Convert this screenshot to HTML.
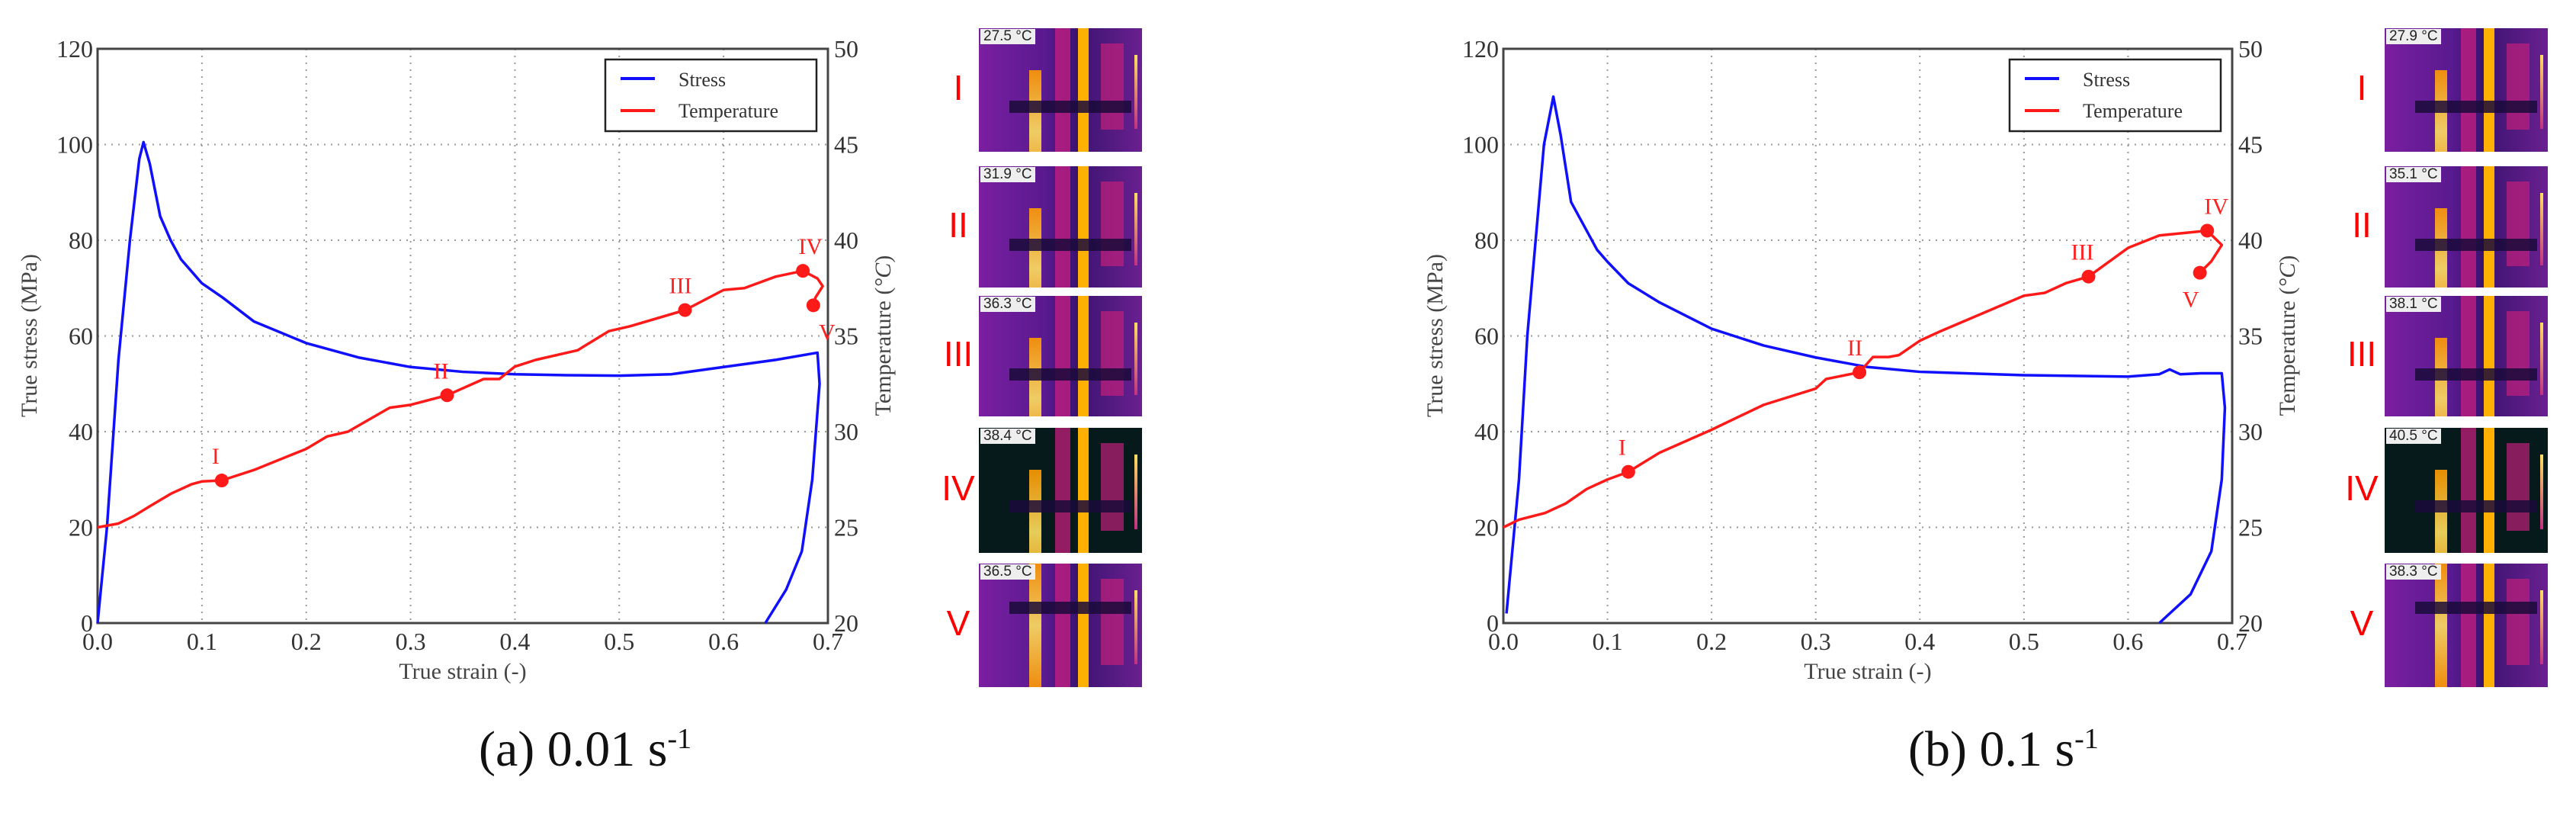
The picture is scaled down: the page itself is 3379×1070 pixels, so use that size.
<!DOCTYPE html>
<html><head><meta charset="utf-8">
<style>
html,body{margin:0;padding:0;background:#fff;}
body{width:3379px;height:1070px;position:relative;overflow:hidden;font-family:"Liberation Serif",serif;}
svg{position:absolute;left:0;top:0;}
.cap{position:absolute;font-family:"Liberation Serif",serif;font-size:66px;color:#111;white-space:nowrap;}
.cap sup{font-size:38px;}
.thermo{position:absolute;width:214px;overflow:hidden;background:#5b1a8f;}
.rl{position:absolute;font-family:"Liberation Sans",sans-serif;color:#f00;font-size:46px;width:80px;text-align:center;}
</style></head>
<body>
<svg id="chart" width="3379" height="1070"></svg>
<div class="cap" style="left:628px;top:945px;">(a) 0.01 s<sup>-1</sup></div>
<div class="cap" style="left:2503px;top:945px;">(b) 0.1 s<sup>-1</sup></div>
<div id="thermals"></div>
<script>
// ---- data: panel (a) 0.01 s^-1 ----
const strainA = [0,0.009,0.02,0.031,0.04,0.044,0.05,0.06,0.07,0.08,0.1,0.12,0.15,0.2,0.25,0.3,0.35,0.4,0.45,0.5,0.55,0.6,0.65,0.69,0.692,0.685,0.675,0.66,0.64];
const stressA = [0,20,55,80,97,100.5,96,85,80,76,71,68,63,58.5,55.5,53.5,52.5,52,51.8,51.7,52,53.5,55,56.5,50,30,15,7,0];
const tStrainA = [0,0.02,0.035,0.05,0.07,0.09,0.1,0.119,0.15,0.2,0.22,0.24,0.28,0.3,0.335,0.37,0.385,0.4,0.42,0.46,0.49,0.51,0.563,0.6,0.62,0.65,0.676,0.69,0.695,0.688,0.686];
const tempA = [25,25.2,25.6,26.1,26.75,27.25,27.4,27.45,28,29.1,29.75,30,31.25,31.4,31.9,32.75,32.75,33.4,33.75,34.25,35.25,35.5,36.35,37.4,37.5,38.1,38.4,38,37.6,37,36.6];
const markStrainA = [0.119,0.335,0.563,0.676,0.686];
const markTempA = [27.45,31.9,36.35,38.4,36.6];
// ---- data: panel (b) 0.1 s^-1 ----
const strainB = [0.003,0.015,0.023,0.039,0.048,0.055,0.065,0.08,0.09,0.1,0.12,0.15,0.2,0.25,0.3,0.35,0.4,0.5,0.6,0.63,0.64,0.65,0.67,0.69,0.693,0.69,0.68,0.66,0.63];
const stressB = [2,30,60,100,110,102,88,82,78,75.5,71,67,61.5,58,55.5,53.5,52.5,51.8,51.5,52,53,52,52.2,52.2,45,30,15,6,0];
const tStrainB = [0,0.015,0.04,0.06,0.08,0.1,0.12,0.15,0.2,0.25,0.3,0.31,0.342,0.355,0.37,0.38,0.4,0.42,0.5,0.52,0.54,0.562,0.6,0.63,0.676,0.69,0.68,0.669];
const tempB = [25,25.4,25.75,26.25,27,27.5,27.9,28.9,30.1,31.4,32.25,32.75,33.1,33.9,33.9,34,34.75,35.25,37.1,37.25,37.75,38.1,39.6,40.25,40.5,39.75,38.9,38.3];
const markStrainB = [0.12,0.342,0.562,0.676,0.669];
const markTempB = [27.9,33.1,38.1,40.5,38.3];
const romans = ["I","II","III","IV","V"];
const xTicks = [0,0.1,0.2,0.3,0.4,0.5,0.6,0.7];
const yTicks = [0,20,40,60,80,100,120];
const tTicks = [20,25,30,35,40,45,50];
const photoTempsA = ["27.5 °C","31.9 °C","36.3 °C","38.4 °C","36.5 °C"];
const photoTempsB = ["27.9 °C","35.1 °C","38.1 °C","40.5 °C","38.3 °C"];

const NS="http://www.w3.org/2000/svg";
const svg=document.getElementById('chart');
function mk(tag,attrs,parent){const e=document.createElementNS(NS,tag);for(const k in attrs)e.setAttribute(k,attrs[k]);(parent||svg).appendChild(e);return e;}

function panel(id,L,R,sx,sy,tx,ty,mx,my,labelOff){
  const T=64,B=817;
  const X=v=>L+(v/0.7)*(R-L);
  const Y=v=>B-(v/120)*(B-T);
  const YT=v=>B-((v-20)/30)*(B-T);
  const g=mk('g',{});
  
  
  xTicks.forEach(t=>{
    const l=mk('line',{x1:X(t),x2:X(t),y1:T,y2:B,stroke:'#999','stroke-width':2,'stroke-dasharray':'2,7'},g);
    
    const tx2=mk('text',{x:X(t),y:B+35,'font-size':32,'text-anchor':'middle',fill:'#333'},g);
    tx2.textContent=t.toFixed(1);
    
  });
  yTicks.forEach(t=>{
    const l=mk('line',{x1:L,x2:R,y1:Y(t),y2:Y(t),stroke:'#999','stroke-width':2,'stroke-dasharray':'2,7'},g);
    
    const tx2=mk('text',{x:L-6,y:Y(t)+11,'font-size':32,'text-anchor':'end',fill:'#333'},g);
    tx2.textContent=t;
    
  });
  tTicks.forEach(t=>{
    const tx2=mk('text',{x:R+8,y:YT(t)+11,'font-size':32,fill:'#333'},g);
    tx2.textContent=t;
    
  });
  const fr=mk('rect',{x:L,y:T,width:R-L,height:B-T,fill:'none',stroke:'#444','stroke-width':3},g);
  
  const xl=mk('text',{x:(L+R)/2,y:890,'font-size':30,'text-anchor':'middle',fill:'#444'},g);
  xl.textContent='True strain (-)';
  
  const yl=mk('text',{x:0,y:0,'font-size':30,'text-anchor':'middle',fill:'#444',transform:`translate(${L-80},440) rotate(-90)`},g);
  yl.textContent='True stress (MPa)';
  
  const tl=mk('text',{x:0,y:0,'font-size':30,'text-anchor':'middle',fill:'#444',transform:`translate(${R+82},440) rotate(-90)`},g);
  tl.innerHTML='Temperature (<tspan font-style="italic">°C</tspan>)';
  
  const sp=mk('polyline',{points:sx.map((v,i)=>X(v)+','+Y(sy[i])).join(' '),fill:'none',stroke:'#1010ff','stroke-width':3.5,'stroke-linejoin':'round'},g);
  
  const tp=mk('polyline',{points:tx.map((v,i)=>X(v)+','+YT(ty[i])).join(' '),fill:'none',stroke:'#ff1a1a','stroke-width':3.5,'stroke-linejoin':'round'},g);
  
  mx.forEach((v,i)=>{
    const c=mk('circle',{cx:X(v),cy:YT(my[i]),r:9,fill:'#ff1a1a'},g);
    
    const o=labelOff[i];
    const t=mk('text',{x:X(v)+o[0],y:YT(my[i])+o[1],'font-size':30,'text-anchor':'middle',fill:'#ff2020'},g);
    t.textContent=romans[i];
    
  });
  const lx=R-292,ly=78;
  const lg=mk('g',{},g);
  
  mk('rect',{x:lx,y:ly,width:277,height:94,fill:'#fff',stroke:'#222','stroke-width':2.5},lg);
  mk('line',{x1:lx+20,x2:lx+65,y1:ly+25,y2:ly+25,stroke:'#1010ff','stroke-width':4},lg);
  mk('line',{x1:lx+20,x2:lx+65,y1:ly+67,y2:ly+67,stroke:'#ff1a1a','stroke-width':4},lg);
  const s1=mk('text',{x:lx+96,y:ly+35,'font-size':26,fill:'#333'},lg);s1.textContent='Stress';
  
  const s2=mk('text',{x:lx+96,y:ly+76,'font-size':26,fill:'#333'},lg);s2.textContent='Temperature';
  
}
panel('a',128,1086,strainA,stressA,tStrainA,tempA,markStrainA,markTempA,[[-8,-22],[-8,-22],[-6,-22],[10,-22],[18,45]]);
panel('b',1972,2928,strainB,stressB,tStrainB,tempB,markStrainB,markTempB,[[-8,-22],[-6,-22],[-8,-22],[12,-22],[-12,45]]);

const tops=[37,218,388,561,739], hs=[162,159,158,164,162];
const host=document.getElementById('thermals');
function photos(id,left,labX,temps){
  tops.forEach((t,i)=>{
    const d=document.createElement('div');
    d.className='thermo';
    
    
    d.style.left=left+'px';d.style.top=t+'px';d.style.height=hs[i]+'px';
    const bg=i===3?'#061a1c':'linear-gradient(90deg,#7a1fa0 0%,#5a1a90 40%,#3a1370 60%,#6a2090 100%)';
    d.style.background=bg;
    d.innerHTML=
      '<div style="position:absolute;left:66px;top:'+(i===4?0:55)+'px;width:16px;height:100%;background:linear-gradient(#ff9a00,#ffe060,#ff9a00);opacity:.9"></div>'+
      '<div style="position:absolute;left:130px;top:0;width:14px;height:100%;background:#ffb000"></div>'+
      '<div style="position:absolute;left:100px;top:0;width:20px;height:100%;background:#d02080;opacity:.7"></div>'+
      '<div style="position:absolute;left:160px;top:20px;width:30px;height:70%;background:#c0207a;opacity:.7"></div>'+
      '<div style="position:absolute;left:40px;top:'+(i===4?50:95)+'px;width:160px;height:16px;background:#1a0a3a;opacity:.85"></div>'+
      '<div style="position:absolute;left:204px;top:35px;width:4px;height:60%;background:linear-gradient(#ffe060,#c03080)"></div>'+
      '<div style="position:absolute;left:2px;top:1px;padding:0 4px;background:#eee;color:#222;font:19px \'Liberation Sans\',sans-serif;line-height:20px">'+temps[i]+'</div>';
    host.appendChild(d);
    const l=document.createElement('div');
    l.className='rl';
    
    
    l.style.left=(labX-40)+'px';l.style.top=(t+hs[i]/2-30)+'px';
    l.textContent=romans[i];
    host.appendChild(l);
  });
}
photos('a',1284,1257,photoTempsA);
photos('b',3128,3098,photoTempsB);
</script>
</body></html>
